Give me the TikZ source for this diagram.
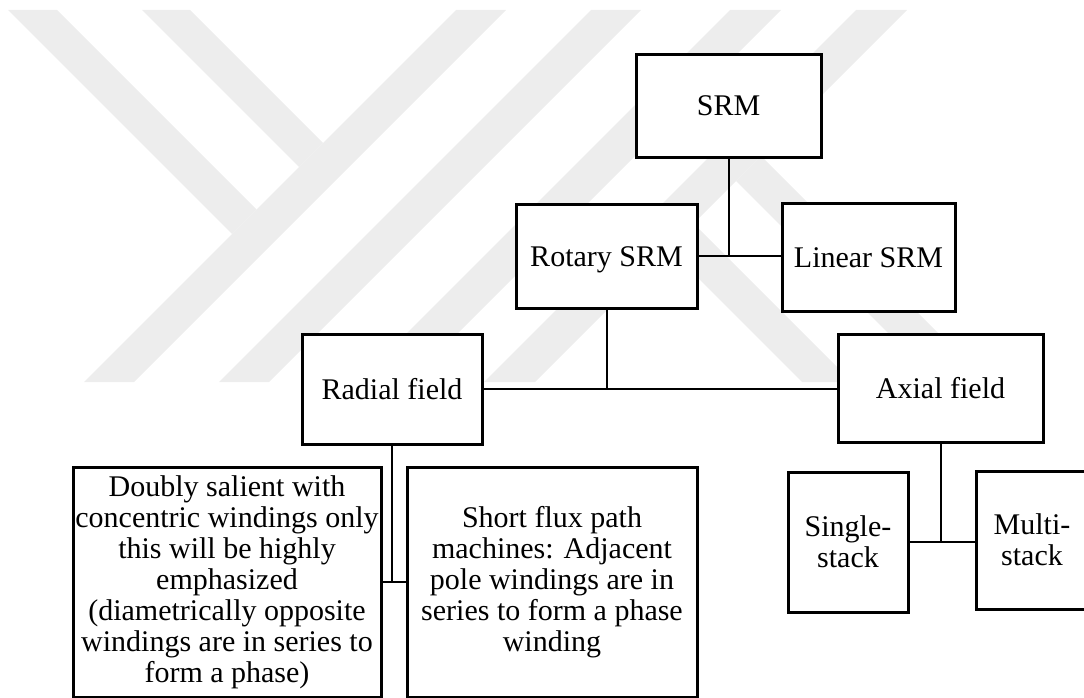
\documentclass[tikz,border=0pt]{standalone}
\usepackage{fontspec}
\setmainfont{Liberation Serif}
\tikzset{
  wm/.style={fill=black!7, draw=none},
  box/.style={draw=black, line width=3pt, fill=white, inner sep=0pt, align=center,
              font=\fontsize{30}{31}\selectfont},
  oneline/.style={box, text height=20pt, text depth=0pt},
  conn/.style={draw=black, line width=2pt},
}
\begin{document}
\begin{tikzpicture}[x=1pt,y=-1pt]
\useasboundingbox (0,0) rectangle (1084,698);
\begin{scope}
\clip (0,0) rectangle (1084,698);
% faint watermark
\fill[wm] (8,10) -- (57,10) -- (256.5,209.5) -- (232,234) -- cycle;
\fill[wm] (142,10) -- (190,10) -- (323,143) -- (299,167) -- cycle;
\fill[wm] (456,10) -- (506,10) -- (134,382) -- (84,382) -- cycle;
\fill[wm] (591,10) -- (641,10) -- (269,382) -- (219,382) -- cycle;
\fill[wm] (730,10) -- (781,10) -- (409,382) -- (358,382) -- cycle;
\fill[wm] (856,10) -- (907,10) -- (535,382) -- (484,382) -- cycle;
\fill[wm] (693.5,223.5) -- (852,382) -- (802,382) -- (668.5,248.5) -- cycle;
\fill[wm] (761,156) -- (987,382) -- (937,382) -- (736,181) -- cycle;

% boxes
\node[oneline, minimum width=185pt, minimum height=102pt] (srm) at (728.5,106) {SRM};
\node[oneline, minimum width=181pt, minimum height=104pt] (rot) at (606.5,256) {Rotary SRM};
\node[oneline, minimum width=173pt, minimum height=108pt] (lin) at (868.5,257) {Linear SRM};
\node[oneline, minimum width=180pt, minimum height=110pt] (rad) at (392,389) {Radial field};
\node[oneline, minimum width=205pt, minimum height=108pt] (axi) at (940.5,388) {Axial field};
\node[box, minimum width=308pt, minimum height=230pt] (dbl) at (227,582)
  {Doubly salient with\\concentric windings only\\this will be highly\\emphasized\\(diametrically opposite\\windings are in series to\\form a phase)};
\node[box, minimum width=290pt, minimum height=230pt] (sht) at (552,582)
  {Short flux path\\machines: Adjacent\\pole windings are in\\series to form a phase\\winding};
\node[box, minimum width=120pt, minimum height=140pt] (sgl) at (848,542) {Single-\\stack};
\node[box, minimum width=112pt, minimum height=138pt] (mlt) at (1032,540) {Multi-\\stack};

% connectors
\coordinate (j1) at (srm.south |- rot.east);
\draw[conn] (srm.south) -- (j1);
\draw[conn] (rot.east) -- (j1);
\draw[conn] (j1) -- (j1 -| lin.west);

\coordinate (j2) at (rot.south |- rad.east);
\draw[conn] (rot.south) -- (j2);
\draw[conn] (rad.east) -- (rad.east -| axi.west);

\coordinate (j3) at (rad.south |- dbl.east);
\draw[conn] (rad.south) -- (j3);
\draw[conn] (dbl.east) -- (dbl.east -| sht.west);

\coordinate (j4) at (axi.south |- sgl.east);
\draw[conn] (axi.south) -- (j4);
\draw[conn] (sgl.east) -- (sgl.east -| mlt.west);
\end{scope}
\end{tikzpicture}
\end{document}
